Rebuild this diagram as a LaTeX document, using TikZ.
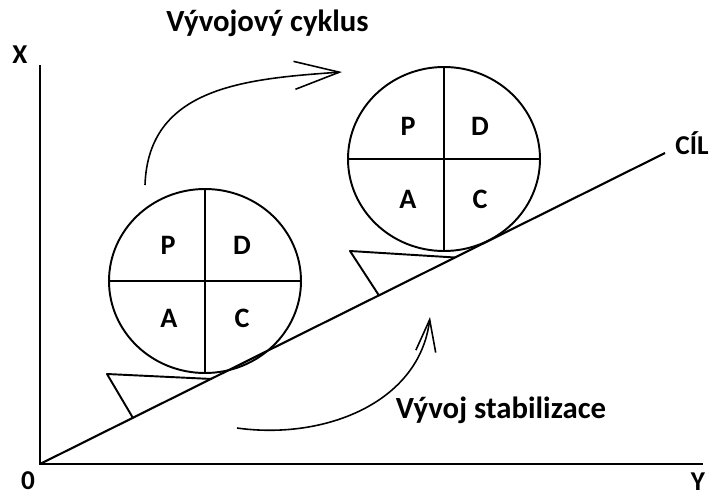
\documentclass[tikz,border=0pt]{standalone}
\usepackage{fontspec}
\setmainfont{Carlito}
\usetikzlibrary{arrows.meta,shapes.geometric}

\begin{document}
\begin{tikzpicture}\tikzstyle{every node} = [align=center, inner sep=0pt]
    \tikzstyle{lab} = [font=\fontsize{15.5}{18}\selectfont\bfseries]
    \tikzstyle{big} = [font=\fontsize{17.5}{20}\selectfont\bfseries]
    \tikzstyle{quad} = [font=\fontsize{16}{19}\selectfont\bfseries]
    \tikzstyle{pdca} = [draw, line width=1.1pt, ellipse, minimum width=3.84cm, minimum height=3.68cm]
    \tikzstyle{wedge} = [line width=1.1pt, line join=round]
    \useasboundingbox (-0.8,-0.64) rectangle (13.44,9.28);

    % axes and the goal line
    \coordinate (o) at (0,0);
    \coordinate (xtop) at (0,7.98);
    \coordinate (yend) at (13.26,0);
    \coordinate (goal) at (12.5,6.22);
    \draw[line width=1.5pt] (xtop) -- (o) -- (yend);
    \draw[line width=1.2pt] (o) -- (goal);

    \node[lab] (xlab) at (-0.4,8.18) {X};
    \node[lab] (olab) at (-0.24,-0.34) {0};
    \node[lab] (ylab) at (13.16,-0.36) {Y};
    \node[lab] (cil) at (13.04,6.42) {CÍL};

    % first PDCA wheel with its wedge
    \node[pdca] (kolo1) at (3.3,3.66) {};
    \draw[line width=1.1pt] (kolo1.north) -- (kolo1.south);
    \draw[line width=1.1pt] (kolo1.west) -- (kolo1.east);
    \node[quad] (p1) at (2.56,4.38) {P};
    \node[quad] (d1) at (4.04,4.38) {D};
    \node[quad] (a1) at (2.58,2.92) {A};
    \node[quad] (c1) at (4.04,2.92) {C};
    \draw[wedge] (1.86,0.92) -- (1.34,1.8) -- (3.44,1.7);

    % second PDCA wheel, one step higher
    \node[pdca] (kolo2) at (8.08,6.1) {};
    \draw[line width=1.1pt] (kolo2.north) -- (kolo2.south);
    \draw[line width=1.1pt] (kolo2.west) -- (kolo2.east);
    \node[quad] (p2) at (7.36,6.76) {P};
    \node[quad] (d2) at (8.8,6.76) {D};
    \node[quad] (a2) at (7.36,5.3) {A};
    \node[quad] (c2) at (8.8,5.3) {C};
    \draw[wedge] (6.78,3.37) -- (6.2,4.26) -- (8.3,4.13);

    % cycle arrows
    \coordinate (cyk1) at (2.1,5.58);
    \coordinate (cyk2) at (6.04,7.84);
    \draw[line width=0.9pt, -{Straight Barb[length=9mm, width=5.6mm]}] (cyk1) to[out=88, in=184, looseness=1.1] (cyk2);
    \node[big] (cyklus) at (4.55,8.82) {Vývojový cyklus};

    \coordinate (stab1) at (3.94,0.72);
    \coordinate (stab2) at (7.8,2.94);
    \draw[line width=0.9pt, -{Straight Barb[length=6.4mm, width=4mm]}] (stab1) to[out=-8, in=-97] (stab2);
    \node[big] (stabil) at (9.22,1.08) {Vývoj stabilizace};
  \end{tikzpicture}
\end{document}
